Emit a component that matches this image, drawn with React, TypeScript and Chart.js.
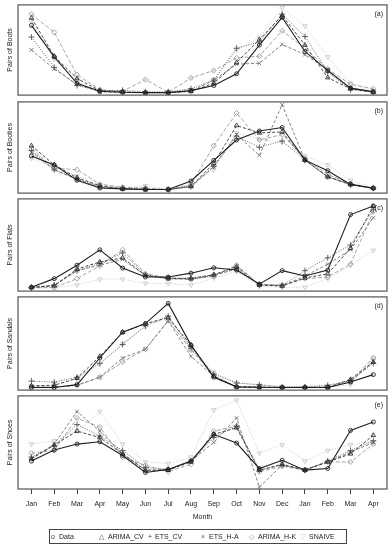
import React, { useEffect, useRef } from 'react';
import { Chart, registerables } from 'chart.js';

Chart.register(...registerables);

const months = ['Jan', 'Feb', 'Mar', 'Apr', 'May', 'Jun', 'Jul', 'Aug', 'Sep', 'Oct', 'Nov', 'Dec', 'Jan', 'Feb', 'Mar', 'Apr'];
const seriesNames = ['Data', 'ARIMA_CV', 'ETS_CV', 'ETS_H-A', 'ARIMA_H-K', 'SNAIVE'];

// Boots
const bootsData = [77.5, 42.1, 12.5, 3.6, 2.5, 2.1, 2.1, 4.3, 10, 23.2, 55.4, 86.4, 48.2, 26.8, 7.1, 2.9];
const bootsArimaCv = [85.7, 42.9, 17.9, 4.3, 2.9, 2.1, 2.1, 3.6, 12.5, 35.7, 61.4, 88.6, 55.4, 18.9, 6.4, 2.5];
const bootsEtsCv = [64.3, 30.4, 10, 4.3, 4.6, 2.9, 2.9, 6.4, 16.1, 51.8, 58.9, 90, 65, 25, 5.4, 2.9];
const bootsEtsHa = [50, 28.6, 11.4, 2.9, 2.5, 2.1, 2.1, 3.6, 16.1, 33.9, 35, 56.1, 44.6, 27.9, 7.1, 3.6];
const bootsArimaHk = [90, 69.6, 22.1, 5.4, 3.6, 16.8, 2.5, 18.6, 26.8, 41, 42.9, 71.4, 51.8, 28.6, 11.4, 6.4];
const bootsSnaive = [82, 39.3, 14.3, 2.9, 2.1, 2.1, 2.1, 2.9, 16.1, 50, 64, 97, 76.8, 42, 12.5, 3.6];

// Booties
const bootiesData = [40.4, 30.4, 13.2, 4.6, 3.6, 2.9, 2.9, 12.5, 35.4, 58.2, 68.2, 72.1, 35.7, 23.9, 8.6, 4.3];
const bootiesArimaCv = [51.8, 30.4, 16.1, 7.1, 3.6, 2.9, 2.9, 6.4, 32.1, 74.3, 66.1, 67.1, 35.7, 17.1, 8.9, 4.3];
const bootiesEtsCv = [46.4, 25, 15, 6.1, 4.3, 3.6, 2.9, 6.1, 28.6, 62.5, 50, 57.1, 35.7, 17.1, 8.2, 4.3];
const bootiesEtsHa = [44.6, 25, 14.3, 5.4, 3.6, 2.9, 2.9, 6.1, 28.6, 64.3, 41, 97.5, 35.7, 17.1, 8.2, 4.3];
const bootiesArimaHk = [48.2, 26.8, 25, 8.9, 5.4, 4.6, 2.9, 8.2, 51.8, 88.2, 58.2, 64.3, 37.5, 19.6, 9.6, 4.6];
const bootiesSnaive = [37.5, 28.6, 17.9, 8.2, 5.4, 7.1, 3.6, 7.9, 25, 66, 59, 55.4, 40.4, 30.4, 13.2, 4.6];

// Flats
const flatsData = [2.9, 12.5, 27.5, 44.6, 24.3, 14.3, 14.3, 18.6, 24.6, 22.1, 6.4, 21.4, 15.4, 22.1, 83.9, 93.6];
const flatsArimaCv = [2.9, 4.6, 23.2, 31.1, 35.7, 16.1, 12.5, 12.5, 16.8, 26.1, 5.4, 4.3, 13.2, 17.9, 46.4, 92.9];
const flatsEtsCv = [2.5, 5.4, 21.4, 29.6, 41.1, 16.8, 13.2, 13.2, 16.8, 23.9, 5.4, 4.6, 21.4, 35.7, 50, 89.3];
const flatsEtsHa = [2.5, 4.6, 21.4, 27.5, 33.9, 16.1, 12.5, 11.8, 16.1, 23.2, 6.1, 4.6, 15.4, 28.6, 44.6, 80.4];
const flatsArimaHk = [2.5, 2.5, 12.5, 26.8, 44.6, 17.9, 13.2, 11.8, 15, 27.5, 6.1, 5.4, 12.5, 14.3, 28.6, 87.5];
const flatsSnaive = [1.8, 2.5, 5.4, 11.8, 11.8, 7.1, 7.1, 5.4, 13.2, 20.4, 3.6, 2.9, 2.9, 12.5, 27.5, 43.9];

// Sandals
const sandalsData = [1.1, 1.1, 4.3, 33.9, 62.5, 72.1, 94.6, 48.2, 12.5, 1.8, 1.4, 1.1, 1.1, 1.1, 7.1, 15.4];
const sandalsArimaCv = [2.9, 3.6, 11.4, 35.7, 62.5, 72.1, 78.6, 48.2, 13.6, 1.8, 1.4, 1.1, 1.1, 1.4, 10, 29.3];
const sandalsEtsCv = [8.2, 7.1, 12.5, 27.9, 48.9, 69.6, 80.4, 44.6, 16.1, 6.1, 4.3, 1.8, 1.8, 3.6, 8.9, 27.9];
const sandalsEtsHa = [1.8, 1.4, 3.6, 12.5, 33.9, 43.6, 75, 35.7, 13.6, 1.8, 1.1, 1.1, 1.4, 1.4, 7.1, 30.4];
const sandalsArimaHk = [1.8, 1.4, 3.6, 12.5, 29.3, 43.6, 75.7, 42.9, 14.3, 1.8, 1.4, 1.1, 1.4, 1.4, 8.9, 33.9];
const sandalsSnaive = [2.9, 3.6, 10.7, 26.8, 50, 68.6, 78.6, 46.4, 17.9, 6.1, 3.6, 1.8, 1.1, 1.1, 4.3, 33.9];

// Shoes
const shoesData = [29.6, 41.8, 48.2, 50.7, 35.7, 17.1, 20.4, 29.6, 58.9, 49.3, 21.4, 30.4, 19.6, 21.4, 63.2, 72.5];
const shoesArimaCv = [32.1, 47.1, 62.5, 55.4, 37.5, 19.6, 19.6, 28.6, 58.9, 66.1, 19.6, 26.1, 19.6, 28.6, 37.5, 57.9];
const shoesEtsCv = [33.9, 46.4, 69.6, 57.1, 41.1, 22.5, 20.7, 29.6, 55.4, 67.9, 19.6, 25, 19.6, 29.6, 41.1, 51.8];
const shoesEtsHa = [32.1, 48.2, 83.9, 62.5, 37.5, 19.6, 19.6, 29.6, 50, 76.8, 1.1, 25, 20.4, 28.6, 39.3, 50];
const shoesArimaHk = [38.2, 41.1, 76.8, 66.8, 33.9, 25, 17.9, 26.1, 62.5, 67.9, 17.9, 23.9, 19.6, 28.6, 28.6, 48.2];
const shoesSnaive = [48.2, 51.8, 62.5, 83.9, 48.2, 28.6, 26.8, 33.9, 85.7, 96.4, 38.2, 47.5, 29.6, 41.1, 47.5, 50.7];

const FONT = '"Liberation Sans", Arial, Helvetica, sans-serif';

const seriesStyles = [
  { color: '#1e1e1e', dash: [] as number[], width: 1.1, point: 'circle', radius: 2, rotation: 0 },
  { color: '#333333', dash: [3, 2], width: 0.9, point: 'triangle', radius: 2.6, rotation: 0 },
  { color: '#555555', dash: [1, 1.5], width: 0.9, point: 'cross', radius: 3, rotation: 0 },
  { color: '#727272', dash: [3, 2], width: 0.9, point: 'crossRot', radius: 2.6, rotation: 0 },
  { color: '#9c9c9c', dash: [4, 2], width: 0.9, point: 'rectRot', radius: 2.6, rotation: 0 },
  { color: '#cacaca', dash: [1, 1.5], width: 0.9, point: 'triangle', radius: 2.6, rotation: 180 },
];

type Panel = {
  title: string;
  label: string;
  series: number[][];
  boxTop: number;
  boxBottom: number;
  yMin: number;
  yMax: number;
  showX: boolean;
};

const panels: Panel[] = [
  { title: 'Pairs of Boots', label: '(a)', series: [bootsData, bootsArimaCv, bootsEtsCv, bootsEtsHa, bootsArimaHk, bootsSnaive], boxTop: 3, boxBottom: 97, yMin: -0.7, yMax: 100.4, showX: false },
  { title: 'Pairs of Booties', label: '(b)', series: [bootiesData, bootiesArimaCv, bootiesEtsCv, bootiesEtsHa, bootiesArimaHk, bootiesSnaive], boxTop: 100, boxBottom: 195, yMin: -1.1, yMax: 100.7, showX: false },
  { title: 'Pairs of Flats', label: '(c)', series: [flatsData, flatsArimaCv, flatsEtsCv, flatsEtsHa, flatsArimaHk, flatsSnaive], boxTop: 197, boxBottom: 293, yMin: -1.4, yMax: 101.4, showX: false },
  { title: 'Pairs of Sandals', label: '(d)', series: [sandalsData, sandalsArimaCv, sandalsEtsCv, sandalsEtsHa, sandalsArimaHk, sandalsSnaive], boxTop: 295, boxBottom: 392, yMin: -1.8, yMax: 101.8, showX: false },
  { title: 'Pairs of Shoes', label: '(e)', series: [shoesData, shoesArimaCv, shoesEtsCv, shoesEtsHa, shoesArimaHk, shoesSnaive], boxTop: 394, boxBottom: 489, yMin: -1.1, yMax: 101.1, showX: true },
];

const PAD = 3;
const X_AXIS_H = 36;
const LEFT = 18;
const RIGHT = 387;
const W = 392;

const framePlugin = {
  id: 'frame',
  afterDraw(chart: any, _args: any, opts: any) {
    const { ctx, chartArea } = chart;
    const { left, top, right, bottom } = chartArea;
    ctx.save();
    ctx.strokeStyle = '#555';
    ctx.lineWidth = 1.2;
    ctx.setLineDash([]);
    ctx.strokeRect(left, top, right - left, bottom - top);
    if (opts && opts.label) {
      ctx.font = `7px ${FONT}`;
      ctx.fillStyle = '#222';
      ctx.textAlign = 'right';
      ctx.textBaseline = 'middle';
      ctx.fillText(opts.label, right - 4, top + 9);
    }
    ctx.restore();
  },
};

function PanelChart({ panel }: { panel: Panel }) {
  const ref = useRef<HTMLCanvasElement>(null);
  const height = panel.boxBottom - panel.boxTop + PAD + (panel.showX ? X_AXIS_H : PAD);
  useEffect(() => {
    if (!ref.current) return;
    const chart = new Chart(ref.current, {
      type: 'line',
      data: {
        datasets: panel.series.map((vals, si) => {
          const s = seriesStyles[si];
          return {
            label: seriesNames[si],
            data: vals.map((v, i) => ({ x: i, y: v })),
            borderColor: s.color,
            borderWidth: s.width,
            borderDash: s.dash,
            pointStyle: s.point as any,
            pointRadius: s.radius,
            pointRotation: s.rotation,
            pointBorderColor: s.color,
            pointBorderWidth: 0.9,
            pointBackgroundColor: 'rgba(255,255,255,0)',
            tension: 0,
            fill: false,
            clip: false as any,
          };
        }),
      },
      options: {
        animation: false,
        responsive: false,
        devicePixelRatio: 1,
        layout: { padding: { top: PAD, bottom: panel.showX ? 0 : PAD, left: 0, right: W - RIGHT } },
        plugins: {
          legend: { display: false },
          tooltip: { enabled: false },
          frame: { label: panel.label },
        } as any,
        scales: {
          x: {
            type: 'linear',
            min: -0.59,
            max: 15.6,
            display: panel.showX,
            afterBuildTicks: (s: any) => {
              s.ticks = months.map((_, i) => ({ value: i }));
            },
            afterFit: (s: any) => {
              s.height = panel.showX ? X_AXIS_H : 0;
            },
            grid: { display: true, drawOnChartArea: false, drawTicks: true, tickLength: 5, tickColor: '#444', tickWidth: 1 },
            border: { display: false },
            ticks: {
              autoSkip: false,
              maxRotation: 0,
              padding: 6,
              color: '#222',
              font: { family: FONT, size: 7 },
              callback: (_v: any, i: number) => months[i],
            },
            title: { display: true, text: 'Month', color: '#222', font: { family: FONT, size: 7 }, padding: { top: 0, bottom: 4 } },
          },
          y: {
            min: panel.yMin,
            max: panel.yMax,
            afterFit: (s: any) => {
              s.width = LEFT;
            },
            ticks: { display: false },
            grid: { display: false },
            border: { display: false },
            title: { display: true, text: panel.title, color: '#222', font: { family: FONT, size: 7 }, padding: { top: 6, bottom: 0 } },
          },
        },
      },
      plugins: [framePlugin],
    });
    return () => chart.destroy();
  }, [panel]);
  return (
    <canvas
      ref={ref}
      width={W}
      height={height}
      style={{ position: 'absolute', left: 0, top: panel.boxTop - PAD, width: W, height }}
    />
  );
}

const legendItems = [
  { sym: 'o', color: '#333', symX: 51, textX: 59 },
  { sym: '\u25B3', color: '#444', symX: 99, textX: 108 },
  { sym: '+', color: '#444', symX: 148, textX: 155 },
  { sym: '\u00D7', color: '#666', symX: 201, textX: 209 },
  { sym: '\u25C7', color: '#999', symX: 249, textX: 258 },
  { sym: '\u25BD', color: '#c8c8c8', symX: 300, textX: 309 },
];

export default function App() {
  return (
    <div style={{ position: 'absolute', left: 0, top: 0, width: 392, height: 550, background: '#fff', overflow: 'hidden' }}>
      {panels.map((p) => (
        <PanelChart key={p.label} panel={p} />
      ))}
      <div
        style={{
          position: 'absolute',
          left: 49,
          top: 529,
          width: 298,
          height: 15,
          border: '1px solid #444',
          boxSizing: 'border-box',
        }}
      />
      {legendItems.map((it, i) => (
        <React.Fragment key={i}>
          <span style={{ position: 'absolute', left: it.symX, top: 531, fontFamily: FONT, fontSize: 7, lineHeight: '11px', color: it.color }}>{it.sym}</span>
          <span style={{ position: 'absolute', left: it.textX, top: 531, fontFamily: FONT, fontSize: 7, lineHeight: '11px', color: '#222' }}>{seriesNames[i]}</span>
        </React.Fragment>
      ))}
    </div>
  );
}
